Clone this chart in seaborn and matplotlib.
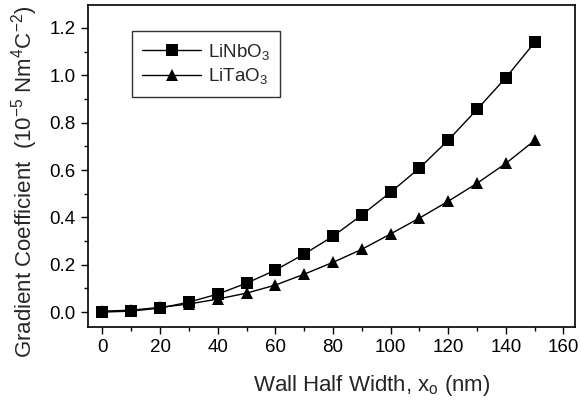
import matplotlib
matplotlib.use("Agg")
import matplotlib.pyplot as plt
import seaborn as sns
import pandas as pd
from matplotlib.ticker import MultipleLocator

x_nm = [0, 10, 20, 30, 40, 50, 60, 70, 80, 90, 100, 110, 120, 130, 140, 150]
linbo3 = [0.0, 0.004, 0.017, 0.042, 0.076, 0.122, 0.177, 0.245, 0.32, 0.41,
          0.506, 0.608, 0.726, 0.856, 0.99, 1.139]
litao3 = [0.004, 0.008, 0.02, 0.034, 0.055, 0.08, 0.114, 0.16, 0.21, 0.265,
          0.33, 0.397, 0.468, 0.544, 0.628, 0.725]

sns.set_style("ticks")
plt.rcParams['font.family'] = ['Liberation Sans', 'DejaVu Sans']
plt.rcParams['mathtext.fontset'] = 'custom'
plt.rcParams['mathtext.rm'] = 'Liberation Sans'
plt.rcParams['mathtext.it'] = 'Liberation Sans'

fig = plt.figure(figsize=(5.81, 4.09), dpi=100)
ax = fig.add_axes([0.1515, 0.2005, 0.8382, 0.7873])

df = pd.DataFrame({"x": x_nm * 2,
                   "y": linbo3 + litao3,
                   "s": ["LiNbO$_3$"] * len(x_nm) + ["LiTaO$_3$"] * len(x_nm)})
sns.lineplot(data=df, x="x", y="y", hue="s", style="s",
             markers={"LiNbO$_3$": "s", "LiTaO$_3$": "^"}, dashes=False,
             palette={"LiNbO$_3$": "black", "LiTaO$_3$": "black"},
             markersize=8, linewidth=1.0, markeredgewidth=0, ax=ax)

ax.set_xlim(-5, 164)
ax.set_ylim(-0.063, 1.297)
ax.xaxis.set_major_locator(MultipleLocator(20))
ax.xaxis.set_minor_locator(MultipleLocator(10))
ax.yaxis.set_minor_locator(MultipleLocator(0.1))
ax.set_yticks([0.0, 0.2, 0.4, 0.6, 0.8, 1.0, 1.2])
ax.set_yticklabels(["0.0", "0.2", "0.4", "0.6", "0.8", "1.0", "1.2"])
ax.tick_params(which='major', direction='out', length=5, width=1, labelsize=13.5,
               colors='black', pad=4)
ax.tick_params(which='minor', direction='out', length=3, width=1, colors='black')
for sp in ax.spines.values():
    sp.set_linewidth(1.2)
    sp.set_color('black')

ax.set_xlabel("Wall Half Width, x$_\\mathrm{o}$ (nm)", fontsize=16, va='center', ha='center')
ax.xaxis.set_label_coords(0.583, -0.183)
ax.set_ylabel("Gradient Coefficient  (10$^{-5}$ Nm$^4$C$^{-2}$)", fontsize=16,
              va='center', ha='center')
ax.yaxis.set_label_coords(-0.131, 0.45)

leg = ax.legend(loc='upper left', bbox_to_anchor=(0.09, 0.918), borderaxespad=0,
                fontsize=13.5, frameon=True, fancybox=False, edgecolor='black',
                handlelength=3.15, handletextpad=0.35, borderpad=0.55,
                labelspacing=0.25, title=None)
leg.get_frame().set_linewidth(1.0)

fig.savefig("out.png", dpi=100)
